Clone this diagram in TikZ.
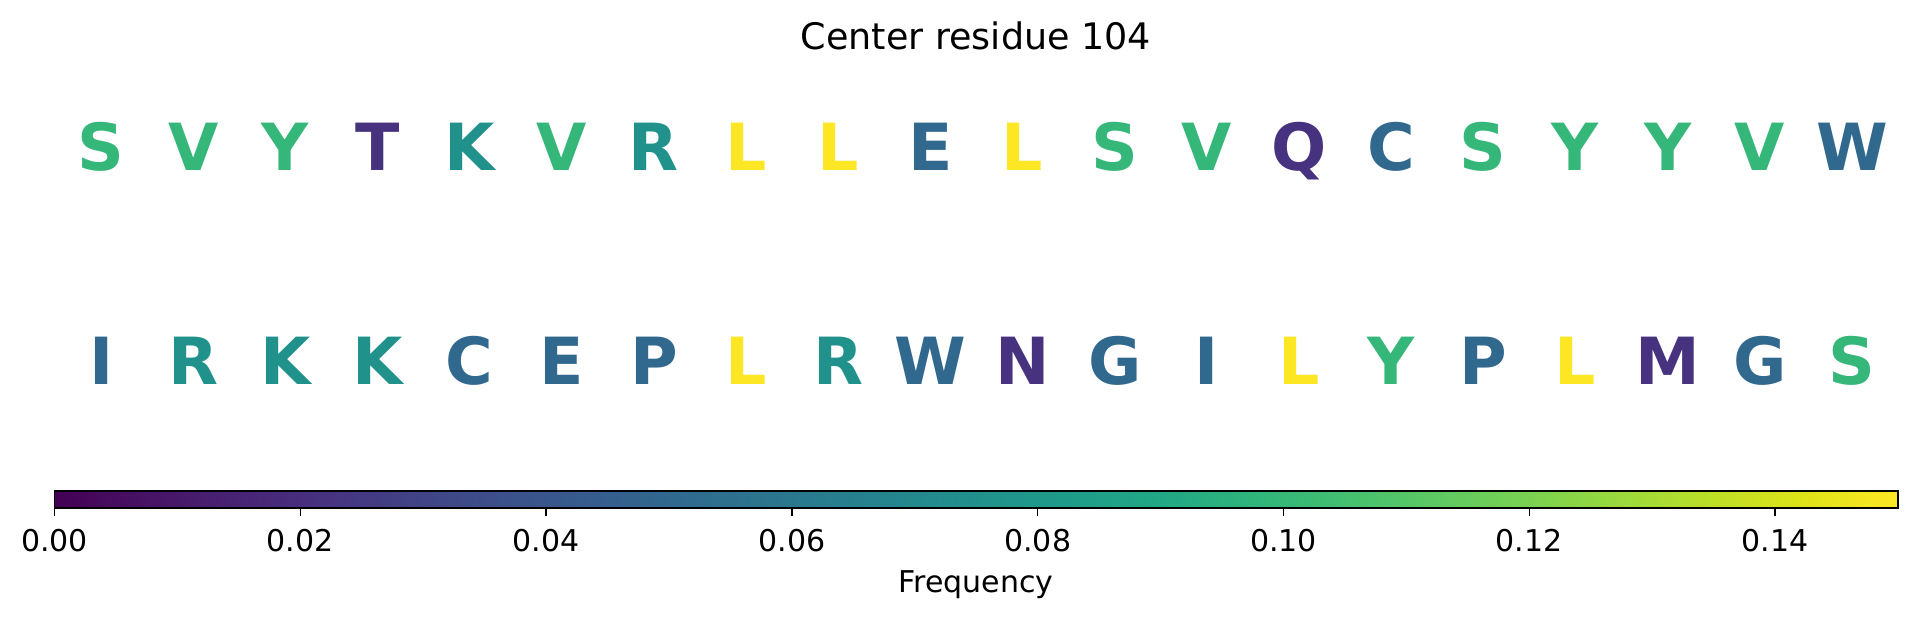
\documentclass[tikz,border=0pt]{standalone}
\usepackage{fontspec}
\setmainfont{DejaVu Sans}
\definecolor{cg}{HTML}{35B779}
\definecolor{ct}{HTML}{21918C}
\definecolor{cb}{HTML}{31688E}
\definecolor{cp}{HTML}{46327E}
\definecolor{cy}{HTML}{FDE725}
\definecolor{v0}{HTML}{440154}
\definecolor{v1}{HTML}{471365}
\definecolor{v2}{HTML}{482475}
\definecolor{v3}{HTML}{463480}
\definecolor{v4}{HTML}{414487}
\definecolor{v5}{HTML}{3B528B}
\definecolor{v6}{HTML}{355F8D}
\definecolor{v7}{HTML}{2F6C8E}
\definecolor{v8}{HTML}{2A788E}
\definecolor{v9}{HTML}{25848E}
\definecolor{v10}{HTML}{21918C}
\definecolor{v11}{HTML}{1E9C89}
\definecolor{v12}{HTML}{22A884}
\definecolor{v13}{HTML}{2FB47C}
\definecolor{v14}{HTML}{44BF70}
\definecolor{v15}{HTML}{5EC962}
\definecolor{v16}{HTML}{7AD151}
\definecolor{v17}{HTML}{9BD93C}
\definecolor{v18}{HTML}{BDDF26}
\definecolor{v19}{HTML}{DFE318}
\definecolor{v20}{HTML}{FDE725}
\pgfdeclarehorizontalshading{viridis}{100bp}{color(0bp)=(v0); color(25bp)=(v0);
 color(27.5bp)=(v1); color(30bp)=(v2); color(32.5bp)=(v3); color(35bp)=(v4);
 color(37.5bp)=(v5); color(40bp)=(v6); color(42.5bp)=(v7); color(45bp)=(v8);
 color(47.5bp)=(v9); color(50bp)=(v10); color(52.5bp)=(v11); color(55bp)=(v12);
 color(57.5bp)=(v13); color(60bp)=(v14); color(62.5bp)=(v15); color(65bp)=(v16);
 color(67.5bp)=(v17); color(70bp)=(v18); color(72.5bp)=(v19); color(75bp)=(v20);
 color(100bp)=(v20)}
\begin{document}
\begin{tikzpicture}[x=1pt,y=-1pt,
  letter/.style={anchor=base, inner sep=0pt, font=\fontsize{65}{65}\selectfont\bfseries},
  ticklab/.style={anchor=base, inner sep=0pt, font=\fontsize{30}{30}\selectfont},
  tickmark/.style={line width=1.5pt}]
\useasboundingbox (0,0) rectangle (1917,619);
\node[anchor=base, inner sep=0pt, font=\fontsize{36.5}{36.5}\selectfont] (title) at (976,49.3) {Center residue 104};
\foreach \L/\C [count=\i from 0] in {S/cg,V/cg,Y/cg,T/cp,K/ct,V/cg,R/ct,L/cy,L/cy,E/cb,L/cy,S/cg,V/cg,Q/cp,C/cb,S/cg,Y/cg,Y/cg,V/cg,W/cb}
  \node[letter, text=\C] (a\i) at ({101.1+92.15*\i},170.5) {\L};
\foreach \L/\C [count=\i from 0] in {I/cb,R/ct,K/ct,K/ct,C/cb,E/cb,P/cb,L/cy,R/ct,W/cb,N/cp,G/cb,I/cb,L/cy,Y/cg,P/cb,L/cy,M/cp,G/cb,S/cg}
  \node[letter, text=\C] (b\i) at ({101.1+92.15*\i},384) {\L};
\node[draw=black, line width=1.5pt, inner sep=0pt, minimum width=1843.5pt, minimum height=17pt, shading=viridis, shading angle=0] (cbar) at (976.25,499.5) {};
\foreach \lab [count=\k from 0] in {0.00,0.02,0.04,0.06,0.08,0.10,0.12,0.14} {
  \coordinate (tk\k) at ({54.5+245.8*\k},508);
  \draw[tickmark] (tk\k) -- ++(0,8);
  \node[ticklab] (tl\k) at ({54.5+245.8*\k},551.5) {\lab};
}
\node[ticklab] (flabel) at (976,592.7) {Frequency};
\end{tikzpicture}
\end{document}
